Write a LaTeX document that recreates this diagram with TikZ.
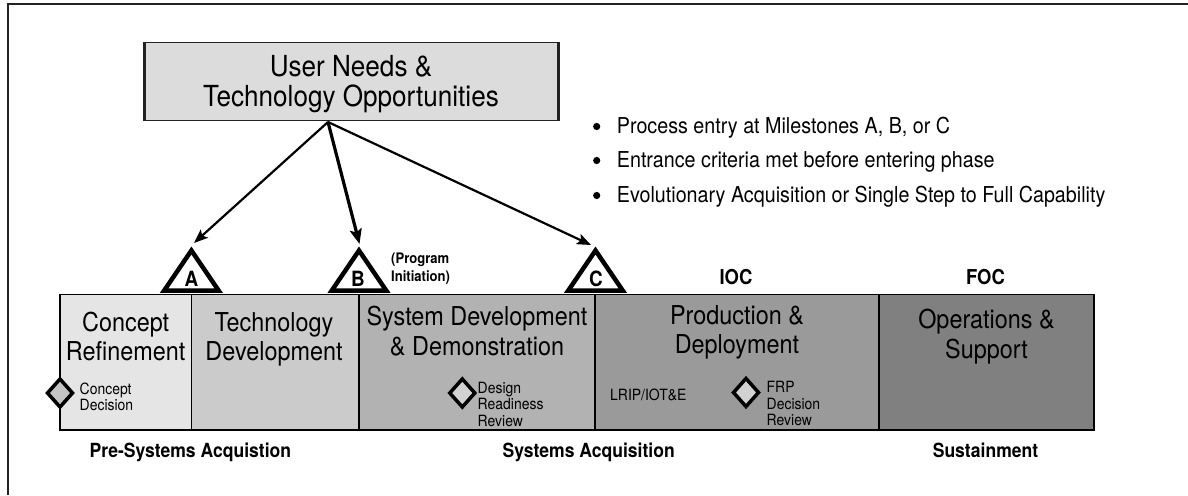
\documentclass[tikz,border=0pt]{standalone}
\usepackage{fontspec}
\setmainfont{TeX Gyre Heros}[FakeStretch=0.9]
\usetikzlibrary{arrows.meta,shapes.geometric}
\definecolor{framec}{HTML}{222222}
\definecolor{needsfill}{HTML}{DCDCDC}
\definecolor{crfill}{HTML}{E5E5E5}
\definecolor{tdfill}{HTML}{CBCBCB}
\definecolor{sddfill}{HTML}{B2B2B2}
\definecolor{pdfill}{HTML}{9A9A9A}
\definecolor{osfill}{HTML}{808080}
\definecolor{dmdA}{HTML}{C4C4C4}
\definecolor{dmdB}{HTML}{D2D2D2}
\tikzset{
  phase/.style={draw=black, line width=1.5pt, inner sep=0pt, rectangle},
  ttl/.style={font=\fontsize{26}{29}\selectfont, anchor=base, inner sep=0pt},
  bigttl/.style={font=\fontsize{29}{32}\selectfont, anchor=base, inner sep=0pt},
  smalltxt/.style={font=\fontsize{15.5}{16}\selectfont, anchor=base west, inner sep=0pt},
  boldlbl/.style={font=\bfseries\fontsize{19.5}{21}\selectfont, anchor=base, inner sep=0pt},
  mslbl/.style={font=\bfseries\fontsize{21}{23}\selectfont, anchor=base, inner sep=0pt},
  ocl/.style={font=\bfseries\fontsize{20.5}{22}\selectfont, anchor=base, inner sep=0pt},
  progtxt/.style={font=\bfseries\fontsize{14.5}{16}\selectfont, anchor=base west, inner sep=0pt},
  bullettxt/.style={font=\fontsize{21.9}{24}\selectfont, anchor=base west, inner sep=0pt},
  bulletdot/.style={circle, fill=black, inner sep=0pt, minimum size=7.2pt},
  milestone/.style={draw=black, fill=white, line width=4.5pt, line join=miter},
  dmdline/.style={draw=black, line width=3.5pt, line join=miter},
  conn/.style={draw=black, line width=2.2pt, -{Stealth[length=14pt,width=11pt,inset=3pt]}},
  connthick/.style={draw=black, line width=3.2pt, -{Stealth[length=15pt,width=12pt,inset=3pt]}},
}
\begin{document}
\begin{tikzpicture}[x=1pt,y=-1pt]
\useasboundingbox (0,0) rectangle (1188,495);
% frame
\draw[framec, line width=2pt] (6.7,4.3) -- (1188,4.3);
\draw[framec, line width=2pt] (7.7,3.3) -- (7.7,495);

% top box
\node[draw=framec, line width=1.8pt, fill=needsfill, minimum width=412pt, minimum height=78pt, inner sep=0pt] (needs) at (351.5,81.5) {};
\draw[framec, line width=3.5pt] (needs.north west) -- (needs.south west);
\draw[framec, line width=3.5pt] (needs.north east) -- (needs.south east);
\node[bigttl] (needs1) at (351,76.7) {User Needs \&};
\node[bigttl] (needs2) at (351,106.7) {Technology Opportunities};

% bullets
\node[bulletdot] (d1) at (596.7,126.5) {};
\node[bulletdot] (d2) at (596.7,160.5) {};
\node[bulletdot] (d3) at (596.7,195.5) {};
\node[bullettxt] (t1) at (616.7,133.5) {Process entry at Milestones A, B, or C};
\node[bullettxt] (t2) at (616.7,167.5) {Entrance criteria met before entering phase};
\node[bullettxt] (t3) at (616.7,202.5) {Evolutionary Acquisition or Single Step to Full Capability};

% phase boxes
\node[phase, fill=crfill, minimum width=131.4pt, minimum height=135.7pt] (cr) at (125.7,362.2) {};
\node[phase, fill=tdfill, minimum width=167.6pt, minimum height=135.7pt] (td) at (275.2,362.2) {};
\node[phase, fill=sddfill, minimum width=236pt, minimum height=135.7pt] (sdd) at (477,362.2) {};
\node[phase, fill=pdfill, minimum width=284pt, minimum height=135.7pt] (pd) at (737,362.2) {};
\node[phase, fill=osfill, minimum width=215pt, minimum height=135.7pt] (os) at (986.5,362.2) {};

\node[ttl] (cr1) at (125.7,331.5) {Concept};
\node[ttl] (cr2) at (125.7,360.5) {Refinement};
\node[ttl] (td1) at (274,331.5) {Technology};
\node[ttl] (td2) at (274,360.5) {Development};
\node[ttl] (sdd1) at (477,325) {System Development};
\node[ttl] (sdd2) at (477,355) {\& Demonstration};
\node[ttl] (pd1) at (737,324.5) {Production \&};
\node[ttl] (pd2) at (737,353.5) {Deployment};
\node[ttl] (os1) at (986.5,328.5) {Operations \&};
\node[ttl] (os2) at (986.5,358) {Support};

% diamonds and small labels
\coordinate (cdec) at (60,393);
\draw[dmdline, fill=dmdA] (cdec) ++(0,-14) -- ++(12.5,14) -- ++(-12.5,14) -- ++(-12.5,-14) -- cycle;
\node[smalltxt] (cd1) at (79.5,394) {Concept};
\node[smalltxt] (cd2) at (79.5,410.5) {Decision};
\coordinate (drr) at (462.3,393);
\draw[dmdline, fill=dmdB] (drr) ++(0,-14) -- ++(12.5,14) -- ++(-12.5,14) -- ++(-12.5,-14) -- cycle;
\node[smalltxt] (dr1) at (477.5,393) {Design};
\node[smalltxt] (dr2) at (477.5,409.5) {Readiness};
\node[smalltxt] (dr3) at (477.5,426) {Review};
\coordinate (frp) at (746,392.5);
\draw[dmdline, fill=dmdB] (frp) ++(0,-14) -- ++(12.5,14) -- ++(-12.5,14) -- ++(-12.5,-14) -- cycle;
\node[smalltxt] (fr1) at (766.5,392.5) {FRP};
\node[smalltxt] (fr2) at (766.5,409) {Decision};
\node[smalltxt] (fr3) at (766.5,425.5) {Review};
\node[smalltxt] (lrip) at (610,400.5) {LRIP/IOT\&E};

% milestones
\draw[milestone] (191.4,250.5) coordinate (apA) -- (218.6,290.5) -- (164.2,290.5) -- cycle;
\draw[milestone] (359,250.5) coordinate (apB) -- (386.2,290.5) -- (331.8,290.5) -- cycle;
\draw[milestone] (595.5,250.5) coordinate (apC) -- (622.7,290.5) -- (568.3,290.5) -- cycle;
\node[mslbl] (la) at (191.4,286.7) {A};
\node[mslbl] (lb) at (358,286.7) {B};
\node[mslbl] (lc) at (596,286.7) {C};
\node[progtxt] (pi1) at (391,263) {(Program};
\node[progtxt] (pi2) at (391,281) {Initiation)};
\node[ocl] (ioc) at (736,284.5) {IOC};
\node[ocl] (foc) at (985.5,284.5) {FOC};

% arrows
\coordinate (src) at (328,122);
\coordinate (tipA) at (194,243);
\coordinate (tipB) at (359.5,244);
\coordinate (tipC) at (591,245);
\draw[conn] (src) -- (tipA);
\draw[connthick] (src) -- (tipB);
\draw[conn] (src) -- (tipC);

% bottom labels
\node[boldlbl] (pre) at (190.4,457) {Pre-Systems Acquistion};
\node[boldlbl] (sys) at (588.7,457) {Systems Acquisition};
\node[boldlbl] (sus) at (985.5,457) {Sustainment};
\end{tikzpicture}
\end{document}
